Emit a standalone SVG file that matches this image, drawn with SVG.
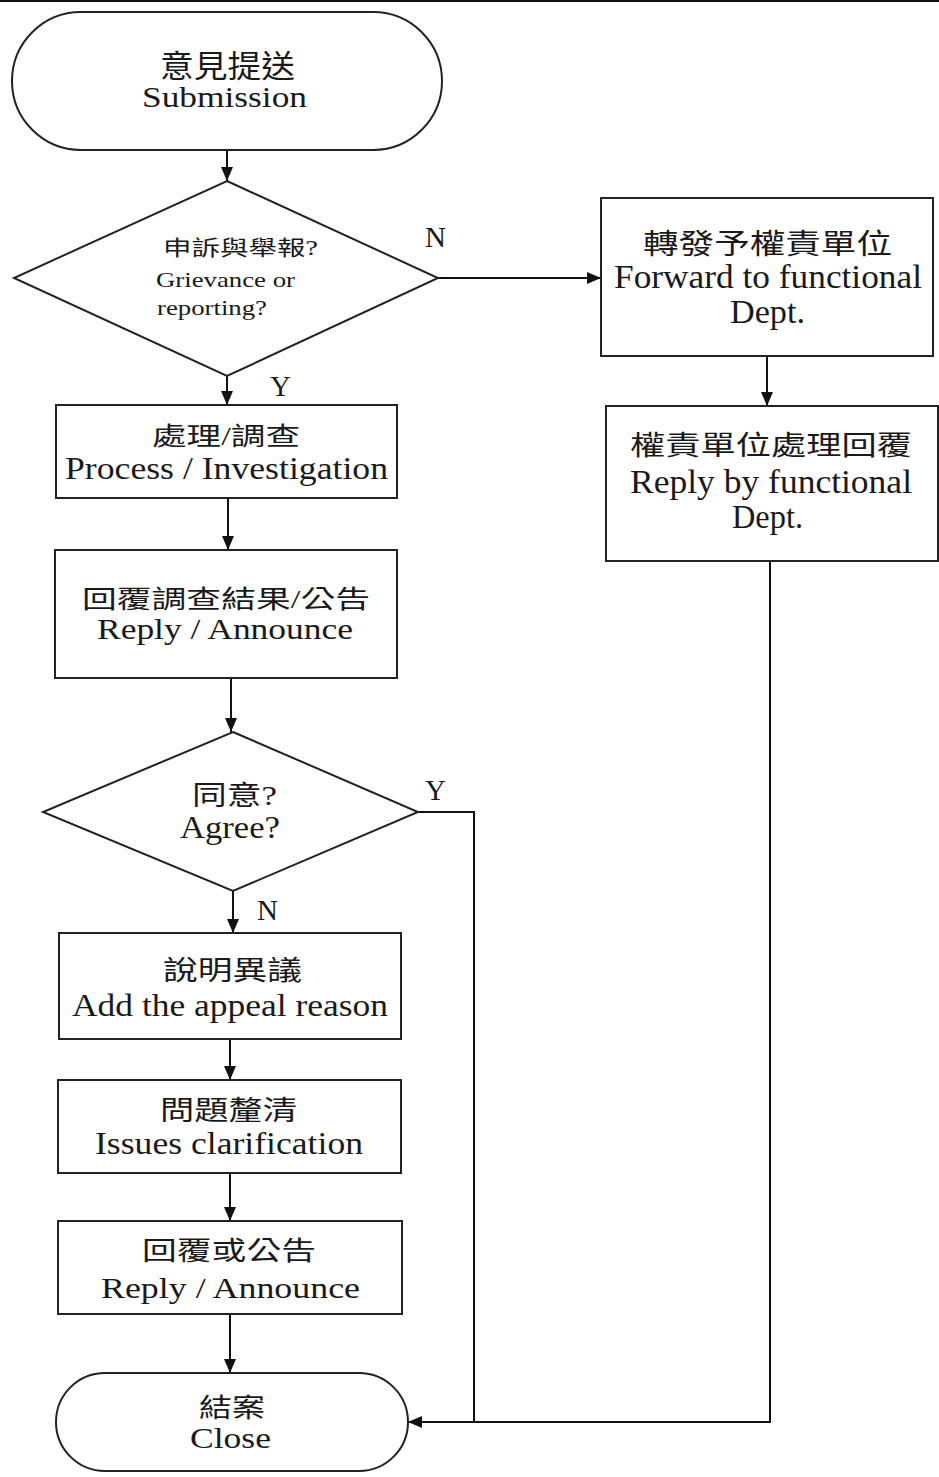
<svg xmlns="http://www.w3.org/2000/svg" width="939" height="1477" viewBox="0 0 939 1477">
<defs>
<style>
.shape{fill:#fff;stroke:#222;stroke-width:2}
.conn{fill:none;stroke:#111;stroke-width:2}
text{font-family:"Liberation Serif","Noto Sans CJK TC",serif;fill:#1a1a1a}
.c{text-anchor:middle}
.lbl{font-size:29px}
</style>
<marker id="arr" markerUnits="userSpaceOnUse" markerWidth="16" markerHeight="14" refX="14" refY="7" orient="auto">
<path d="M0,1 L14,7 L0,13 Z" fill="#111"/>
</marker>
</defs>
<rect width="939" height="1477" fill="#fff"/>
<line x1="0" y1="1" x2="939" y2="1" stroke="#111" stroke-width="2"/>

<g id="connectors">
<line class="conn" x1="227" y1="150" x2="227" y2="181" marker-end="url(#arr)"/>
<line class="conn" x1="438" y1="278" x2="601" y2="278" marker-end="url(#arr)"/>
<line class="conn" x1="227" y1="376" x2="227" y2="405" marker-end="url(#arr)"/>
<line class="conn" x1="767" y1="356" x2="767" y2="406" marker-end="url(#arr)"/>
<line class="conn" x1="228" y1="498" x2="228" y2="550" marker-end="url(#arr)"/>
<line class="conn" x1="231" y1="678" x2="231" y2="732" marker-end="url(#arr)"/>
<line class="conn" x1="233" y1="891" x2="233" y2="933" marker-end="url(#arr)"/>
<line class="conn" x1="230" y1="1039" x2="230" y2="1080" marker-end="url(#arr)"/>
<line class="conn" x1="230" y1="1173" x2="230" y2="1221" marker-end="url(#arr)"/>
<line class="conn" x1="230" y1="1314" x2="230" y2="1373" marker-end="url(#arr)"/>
<polyline class="conn" points="418,812 474,812 474,1422"/>
<polyline class="conn" points="770,561 770,1422 408,1422" marker-end="url(#arr)"/>
<text class="lbl" x="425" y="247">N</text>
<text class="lbl" x="270" y="396">Y</text>
<text class="lbl" x="425" y="800">Y</text>
<text class="lbl" x="257" y="920">N</text>
</g>

<g id="submission">
<rect class="shape" x="12" y="12" width="430" height="138" rx="69" ry="69"/>
<text class="c" x="227.5" y="77" font-size="31" textLength="135" lengthAdjust="spacingAndGlyphs">意見提送</text>
<text class="c" x="224.5" y="107" font-size="29" textLength="165" lengthAdjust="spacingAndGlyphs">Submission</text>
</g>

<g id="decision-grievance">
<polygon class="shape" points="227,181 438,278 227,376 14,278"/>
<text x="163" y="255" font-size="21" textLength="155" lengthAdjust="spacingAndGlyphs">申訴與舉報?</text>
<text x="156" y="287" font-size="21" textLength="139" lengthAdjust="spacingAndGlyphs">Grievance or</text>
<text x="157" y="315" font-size="21" textLength="110" lengthAdjust="spacingAndGlyphs">reporting?</text>
</g>

<g id="forward">
<rect class="shape" x="601" y="198" width="332" height="158"/>
<text class="c" x="767.5" y="254" font-size="28" textLength="249" lengthAdjust="spacingAndGlyphs">轉發予權責單位</text>
<text class="c" x="768" y="288" font-size="33" textLength="308" lengthAdjust="spacingAndGlyphs">Forward to functional</text>
<text class="c" x="767.5" y="323" font-size="33" textLength="75" lengthAdjust="spacingAndGlyphs">Dept.</text>
</g>

<g id="reply-functional">
<rect class="shape" x="606" y="406" width="332" height="155"/>
<text class="c" x="771" y="455" font-size="27" textLength="282" lengthAdjust="spacingAndGlyphs">權責單位處理回覆</text>
<text class="c" x="771" y="493" font-size="33" textLength="282" lengthAdjust="spacingAndGlyphs">Reply by functional</text>
<text class="c" x="767.5" y="528" font-size="33" textLength="71" lengthAdjust="spacingAndGlyphs">Dept.</text>
</g>

<g id="process">
<rect class="shape" x="56" y="405" width="341" height="93"/>
<text class="c" x="226" y="445" font-size="25" textLength="148" lengthAdjust="spacingAndGlyphs">處理/調查</text>
<text class="c" x="226.5" y="479" font-size="31" textLength="323" lengthAdjust="spacingAndGlyphs">Process / Investigation</text>
</g>

<g id="reply-announce">
<rect class="shape" x="55" y="550" width="342" height="128"/>
<text class="c" x="226" y="608" font-size="25" textLength="288" lengthAdjust="spacingAndGlyphs">回覆調查結果/公告</text>
<text class="c" x="225" y="639" font-size="30" textLength="256" lengthAdjust="spacingAndGlyphs">Reply / Announce</text>
</g>

<g id="decision-agree">
<polygon class="shape" points="233,732 418,812 233,891 43,812"/>
<text class="c" x="234.5" y="805" font-size="27" textLength="85" lengthAdjust="spacingAndGlyphs">同意?</text>
<text class="c" x="230" y="838" font-size="31" textLength="100" lengthAdjust="spacingAndGlyphs">Agree?</text>
</g>

<g id="appeal">
<rect class="shape" x="59" y="933" width="342" height="106"/>
<text class="c" x="232.5" y="980" font-size="27" textLength="139" lengthAdjust="spacingAndGlyphs">說明異議</text>
<text class="c" x="230" y="1016" font-size="31" textLength="316" lengthAdjust="spacingAndGlyphs">Add the appeal reason</text>
</g>

<g id="clarification">
<rect class="shape" x="58" y="1080" width="343" height="93"/>
<text class="c" x="228.5" y="1120" font-size="27" textLength="137" lengthAdjust="spacingAndGlyphs">問題釐清</text>
<text class="c" x="229" y="1154" font-size="31" textLength="268" lengthAdjust="spacingAndGlyphs">Issues clarification</text>
</g>

<g id="reply-or-announce">
<rect class="shape" x="58" y="1221" width="344" height="93"/>
<text class="c" x="229" y="1260" font-size="26" textLength="174" lengthAdjust="spacingAndGlyphs">回覆或公告</text>
<text class="c" x="230.5" y="1298" font-size="30" textLength="259" lengthAdjust="spacingAndGlyphs">Reply / Announce</text>
</g>

<g id="close">
<rect class="shape" x="56" y="1373" width="352" height="98" rx="49" ry="49"/>
<text class="c" x="232" y="1417" font-size="26" textLength="66" lengthAdjust="spacingAndGlyphs">結案</text>
<text class="c" x="230.5" y="1448" font-size="29" textLength="81" lengthAdjust="spacingAndGlyphs">Close</text>
</g>
</svg>
